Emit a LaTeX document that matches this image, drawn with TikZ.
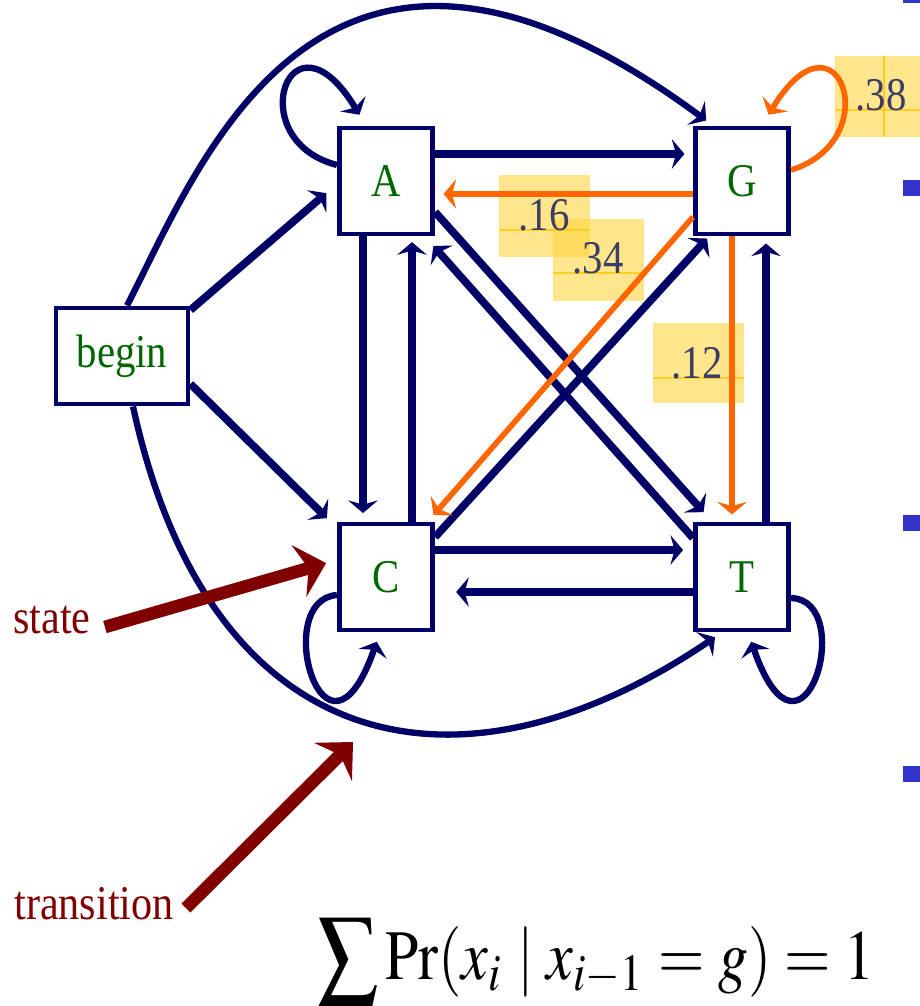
\documentclass[tikz,border=0pt]{standalone}
\usepackage{mathptmx}
\usepackage{fontspec}
\setmainfont{Liberation Serif}
\usepackage{graphicx}
\usetikzlibrary{arrows.meta}

\definecolor{navy}{RGB}{0,0,102}
\definecolor{hotorange}{RGB}{255,102,0}
\definecolor{darkred}{RGB}{128,0,0}
\definecolor{basegreen}{RGB}{0,102,0}
\definecolor{stickyfill}{RGB}{255,214,64}
\definecolor{stickyline}{RGB}{255,206,30}
\definecolor{stickytext}{RGB}{60,60,100}
\definecolor{bulletblue}{RGB}{51,51,204}

% letters are set a bit taller than wide
\newcommand{\tall}[1]{\scalebox{1}[1.15]{#1}}

\tikzset{
  dnabox/.style={draw=navy, line width=3.5pt, fill=white, minimum width=2.33cm,
    minimum height=2.65cm, inner sep=0pt, text=basegreen,
    font=\fontsize{29}{34}\selectfont},
  navyedge/.style={draw=navy, line width=5.5pt, shorten >=6pt,
    -{Stealth[length=9pt,width=21pt,inset=3pt]}},
  curveedge/.style={navyedge, line width=4.5pt},
  orangeedge/.style={navyedge, draw=hotorange, line width=4pt},
  pointer/.style={draw=darkred, line width=9pt,
    -{Stealth[length=20pt,width=38pt,inset=7pt]}},
  sticky/.style={fill=stickyfill, fill opacity=0.6},
  stickyrule/.style={draw=stickyline, line width=1.2pt},
  problabel/.style={text=stickytext, font=\fontsize{29}{34}\selectfont,
    anchor=base, inner sep=0pt},
  pointlabel/.style={text=darkred, font=\fontsize{30}{36}\selectfont, inner sep=0pt}
}

\begin{document}
\begin{tikzpicture}[x=0.025cm, y=-0.025cm]
  \useasboundingbox (0,0) rectangle (920,1006);
  \fill[white] (0,0) rectangle (920,1006);

  % sticky notes: probabilities leaving G
  \fill[sticky] (499,175) rectangle (590,257);
  \fill[sticky] (553,219) rectangle (644,301);
  \fill[sticky] (653,323) rectangle (744,403);
  \fill[sticky] (835,56) rectangle (925,137);
  \draw[stickyrule] (499,230) -- (590,230);
  \draw[stickyrule] (553,273) -- (644,273);
  \draw[stickyrule] (653,378) -- (744,378);
  \draw[stickyrule] (835,110) -- (920,110);
  \draw[stickyrule] (884,56) -- (884,137);
  \node[problabel] (p16) at (544,230) {\tall{.16}};
  \node[problabel] (p34) at (598,273) {\tall{.34}};
  \node[problabel] (p12) at (697,378) {\tall{.12}};
  \node[problabel] (p38) at (881,110) {\tall{.38}};

  % bullets at the right border
  \fill[bulletblue] (903,-13) rectangle (920,3);
  \fill[bulletblue] (903,180) rectangle (920,196);
  \fill[bulletblue] (903,515) rectangle (920,531);
  \fill[bulletblue] (903,766) rectangle (920,782);

  % states
  \node[dnabox] (A) at (386,181) {\tall{A}};
  \node[dnabox] (G) at (742,181) {\tall{G}};
  \node[dnabox] (C) at (386,577) {\tall{C}};
  \node[dnabox] (T) at (742,577) {\tall{T}};
  \node[dnabox, minimum width=3.3cm, minimum height=2.4cm] (begin) at (122,356) {\tall{begin}};

  % transitions around the square
  \draw[navyedge] (A.east |- 0,154) -- (G.west |- 0,154);
  \draw[orangeedge] (G.west |- 0,194) -- (A.east |- 0,194);
  \draw[navyedge] (A.south -| 363,0) -- (C.north -| 363,0);
  \draw[navyedge, shorten >=4pt] (C.north -| 412,0) -- (A.south -| 412,0);
  \draw[orangeedge, shorten >=5pt] (G.south -| 732,0) -- (T.north -| 732,0);
  \draw[navyedge, shorten >=5pt] (T.north -| 766,0) -- (G.south -| 766,0);
  \draw[navyedge, shorten >=7pt] (C.east |- 0,550) -- (T.west |- 0,550);
  \draw[navyedge, shorten >=15pt] (T.west |- 0,592) -- (C.east |- 0,592);

  % diagonals
  \draw[navyedge, shorten >=9pt] (A.east |- 0,212) -- (T.north -| 712,0);
  \draw[navyedge, shorten >=9pt] (T.west |- 0,538) -- (A.south -| 425,0);
  \draw[navyedge, shorten >=2pt] (C.east |- 0,537) -- (G.south -| 709,0);
  \draw[orangeedge] (G.west |- 0,217) -- (C.north -| 428,0);

  % out of begin
  \draw[navyedge, shorten >=10pt] (begin.east |- 0,310) -- (A.west |- 0,184);
  \draw[navyedge, shorten >=10pt] (begin.east |- 0,384) -- (C.west |- 0,528);
  \draw[curveedge] (begin.north -| 127,0) .. controls (200,165) and (320,-165) .. (G.north -| 713,0);
  \draw[curveedge] (begin.south -| 133,0) .. controls (210,760) and (460,810) .. (T.south -| 722,0);

  % self transitions
  \draw[curveedge, shorten >=9pt] (A.west |- 0,165) .. controls (240,140) and (290,0) .. (A.north -| 366,0);
  \draw[orangeedge, shorten >=9pt] (G.east |- 0,170) .. controls (888,140) and (838,0) .. (G.north -| 762,0);
  \draw[curveedge, shorten >=7pt] (C.west |- 0,595) .. controls (270,600) and (325,790) .. (C.south -| 380,0);
  \draw[curveedge, shorten >=7pt] (T.east |- 0,598) .. controls (858,600) and (803,790) .. (T.south -| 748,0);

  % what is a state, what is a transition
  \node[pointlabel] (statelbl) at (52,620) {\tall{state}};
  \node[pointlabel] (translbl) at (94,904) {\tall{transition}};
  \coordinate (arcpoint) at (353,742);
  \draw[pointer, shorten >=8pt] ([shift={(14,7)}]statelbl.east) -- (C.west |- 0,560);
  \draw[pointer] ([shift={(12,4)}]translbl.east) -- (arcpoint);

  % outgoing probabilities of g sum to one
  \node[anchor=north west, inner sep=0pt] (sumrule) at (317,918)
    {\resizebox*{13.93cm}{2.18cm}{$\displaystyle\sum\Pr(x_i \mid x_{i-1}=g)=1$}};
\end{tikzpicture}
\end{document}
